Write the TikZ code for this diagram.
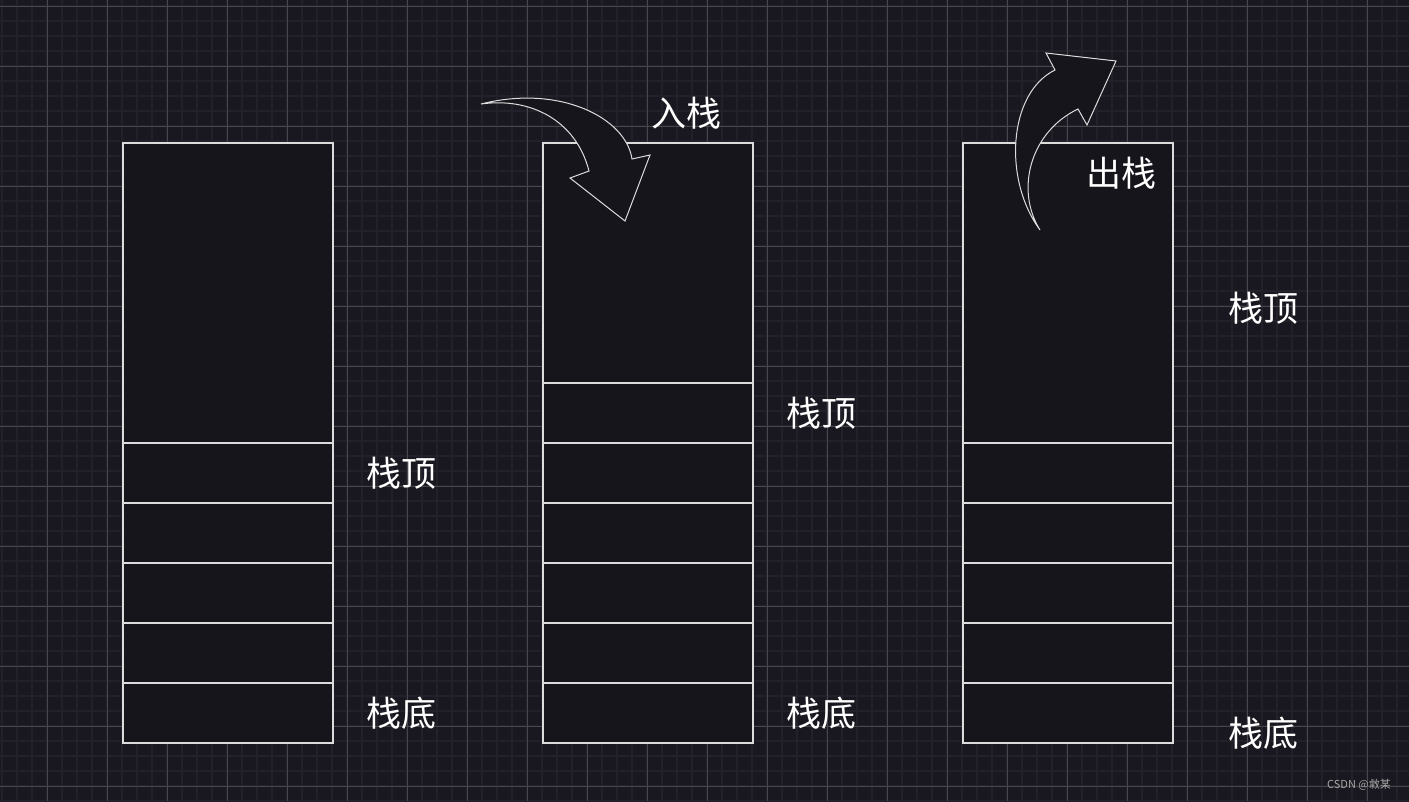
\documentclass[tikz,border=0pt]{standalone}
\usepackage{fontspec}
\usepackage{tikz}
\usetikzlibrary{positioning}
\newfontfamily\cjkfont{Noto Sans CJK SC}
\definecolor{bgdark}{HTML}{19171F}
\definecolor{boxfill}{HTML}{17151C}
\definecolor{gridminor}{HTML}{222028}
\definecolor{gridmajor}{HTML}{48464C}
\definecolor{lineclr}{HTML}{DCDCDC}

\begin{document}
\begin{tikzpicture}[x=1pt, y=-1pt,
    stackframe/.style={draw=lineclr, line width=1.1pt, fill=boxfill,
                       minimum width=210pt, minimum height=600pt, inner sep=0pt},
    cell/.style={draw=lineclr, line width=1.1pt,
                 minimum width=210pt, minimum height=60pt, inner sep=0pt},
    lbl/.style={text=white, font=\cjkfont\fontsize{35}{40}\selectfont, inner sep=0pt},
    bigarrow/.style={draw=lineclr, line width=1pt, fill=boxfill, line join=miter},
]
    % background and grid
    \fill[bgdark] (0,0) rectangle (1409,801);
    \useasboundingbox (0,0) rectangle (1409,801);
    \foreach \x in {2,17,...,1409} \draw[gridminor, line width=1.8pt] (\x,0) -- (\x,801);
    \foreach \y in {6,21,...,801} \draw[gridminor, line width=1.8pt] (0,\y) -- (1409,\y);
    \foreach \x in {47,107,...,1409} \draw[gridmajor, line width=1pt] (\x,0) -- (\x,801);
    \foreach \y in {6,66,...,801} \draw[gridmajor, line width=1pt] (0,\y) -- (1409,\y);

    % three stacks
    \node[stackframe] (stackA) at (228,443) {};
    \node[stackframe] (stackB) at (648,443) {};
    \node[stackframe] (stackC) at (1068,443) {};
    \foreach \i in {1,...,5} \node[cell] (cellA\i) at (228,773-60*\i) {};
    \foreach \i in {1,...,6} \node[cell] (cellB\i) at (648,773-60*\i) {};
    \foreach \i in {1,...,5} \node[cell] (cellC\i) at (1068,773-60*\i) {};

    % labels
    \node[lbl] (topA) at (401,473) {栈顶};
    \node[lbl] (bottomA) at (401,713) {栈底};
    \node[lbl] (topB) at (821,413) {栈顶};
    \node[lbl] (bottomB) at (821,713) {栈底};
    \node[lbl] (push) at (686,113) {入栈};
    \node[lbl] (pop) at (1121,173) {出栈};
    \node[lbl] (topC) at (1263,308) {栈顶};
    \node[lbl] (bottomC) at (1263,733) {栈底};

    % push arrow
    \draw[bigarrow] (481,104) .. controls (560,84) and (626,118) .. (632,159)
        -- (650,155) -- (625,221) -- (570,178) -- (589,171)
        .. controls (576,120) and (530,97) .. (481,104) -- cycle;
    % pop arrow
    \draw[bigarrow] (1040,230) .. controls (1003,180) and (1008,93) .. (1055,70)
        -- (1046,53) -- (1116,61) -- (1087,125) -- (1078,109)
        .. controls (1030,132) and (1015,190) .. (1040,230) -- cycle;

    % watermark
    \node[text=gray!70, font=\cjkfont\fontsize{11}{13}\selectfont, inner sep=0pt] (mark) at (1359,785) {CSDN @敹某};
\end{tikzpicture}
\end{document}
